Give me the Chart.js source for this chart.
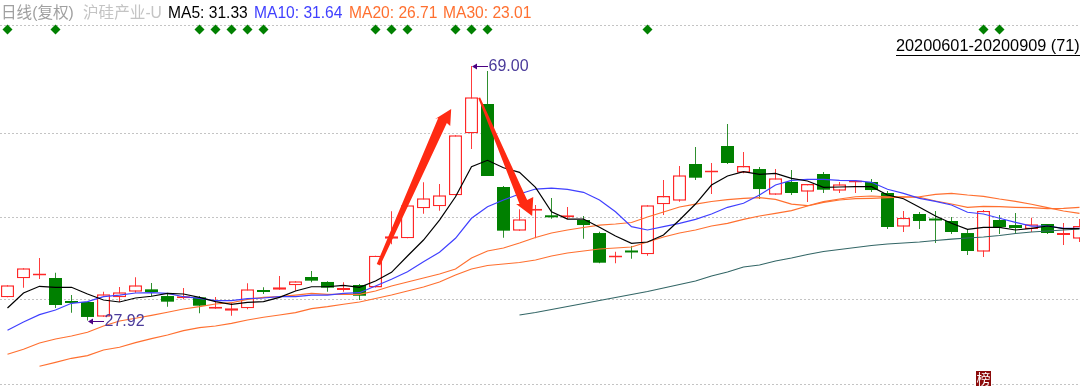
<!DOCTYPE html>
<html><head><meta charset="utf-8">
<style>html,body{margin:0;padding:0;background:#fff}canvas{display:block}</style>
<script src="https://cdn.jsdelivr.net/npm/chart.js@4"></script>
</head><body><canvas id="c" width="1080" height="386"></canvas>
<script>
const openP=[31.66,34.73,35.20,34.78,31.07,30.91,28.54,31.66,32.57,32.95,31.87,31.50,31.66,29.83,29.51,29.89,32.60,32.89,33.60,34.94,34.14,32.84,33.65,33.25,41.12,41.19,46.03,46.35,48.13,58.13,62.86,49.47,42.42,45.65,44.90,44.58,44.14,42.04,38.09,39.06,38.61,46.68,47.26,53.18,51.81,56.09,51.78,52.37,48.22,50.28,48.71,51.57,48.87,50.20,50.28,48.50,43.06,45.11,44.22,43.98,42.04,39.03,44.14,43.33,42.69,43.50,41.72,41.12];
const closeP=[33.60,36.35,35.30,30.42,30.75,28.49,32.14,32.47,33.60,32.52,30.96,31.66,30.31,29.94,29.89,32.95,32.52,33.28,34.25,34.35,33.22,33.05,31.92,38.38,41.51,46.51,47.64,48.13,57.81,63.95,51.24,42.42,44.25,45.75,44.58,44.90,43.33,37.25,38.33,38.90,46.51,48.02,51.36,50.97,51.97,53.34,52.86,49.14,50.87,48.50,49.95,49.03,49.90,50.36,48.98,43.01,44.47,43.98,44.06,42.21,39.14,45.60,43.01,42.85,43.45,42.04,42.04,43.17];
const highP=[33.60,36.35,38.01,35.63,32.03,30.91,32.57,33.33,34.89,33.98,32.31,33.17,31.87,31.71,30.75,33.93,33.28,35.11,34.25,35.91,34.25,34.09,33.81,38.38,45.55,46.51,50.23,49.95,57.81,69.00,68.19,49.63,45.87,46.56,47.69,46.24,44.79,42.25,39.03,39.94,46.51,50.60,52.86,55.92,53.34,59.64,55.12,52.70,52.37,52.21,49.95,51.89,50.28,50.60,50.76,48.82,45.60,45.43,45.60,44.62,42.69,45.76,44.95,45.27,44.51,43.50,43.66,44.30];
const lowP=[31.66,33.22,34.62,29.94,29.18,27.92,28.54,30.91,32.41,31.87,30.15,31.34,29.09,29.83,28.69,29.73,32.20,32.89,32.73,34.09,32.57,32.57,31.23,33.25,40.22,41.19,45.16,45.65,48.13,55.60,51.24,41.29,42.42,41.19,44.35,44.30,41.12,37.15,37.15,37.90,38.38,44.95,47.10,50.60,48.34,53.18,51.68,47.53,48.22,48.18,47.05,48.50,48.50,48.50,48.66,42.69,42.21,42.69,40.43,41.88,38.49,38.17,41.88,42.04,42.21,41.88,40.11,40.59];
const ma5=[29.94,32.36,33.44,33.28,33.28,32.20,31.23,30.91,31.55,31.83,32.31,32.20,31.66,30.96,30.54,30.86,30.96,31.66,32.68,33.37,33.37,33.60,33.28,34.30,35.70,38.33,40.91,44.14,47.90,52.74,53.78,52.58,51.84,49.42,45.48,44.30,44.30,42.96,41.56,40.38,40.59,41.72,44.14,46.72,49.79,51.24,51.94,51.52,51.68,50.87,50.44,49.42,49.47,49.52,49.52,48.18,47.58,46.19,44.79,43.61,42.64,42.96,42.96,42.53,42.80,43.17,42.74,42.74];
const ma10=[26.34,27.68,28.86,29.62,30.70,30.96,31.76,32.03,32.36,32.41,32.31,31.76,31.50,31.12,31.12,31.44,31.55,31.76,31.76,32.03,32.03,32.31,32.41,33.49,34.57,35.80,37.41,38.93,41.19,44.42,46.29,47.37,48.34,49.14,49.30,49.10,48.61,47.37,45.48,43.06,42.53,43.06,43.61,44.25,45.11,46.19,46.84,48.18,49.79,50.55,50.71,50.71,50.55,50.49,50.23,49.10,48.45,47.64,47.16,46.56,45.39,45.11,44.42,43.77,43.17,43.17,42.80,42.80];
const ma20=[22.47,23.27,24.29,24.94,25.42,26.02,27.03,27.84,28.28,28.76,29.25,29.78,30.15,30.58,30.79,31.34,31.66,31.76,32.03,32.31,32.15,32.15,32.15,32.68,33.49,34.14,34.78,35.43,36.24,38.01,39.14,39.62,40.43,41.32,42.04,42.53,42.93,43.33,43.50,43.74,44.62,45.43,46.24,46.72,47.13,47.42,47.64,47.74,47.48,46.72,46.45,47.10,47.53,47.90,48.02,47.90,47.90,47.81,47.21,46.72,46.19,46.35,46.29,46.19,46.13,45.97,46.03,46.19];
const ma30=[null,null,20.53,21.17,21.82,22.24,23.16,23.60,24.34,24.99,25.58,26.28,26.76,27.03,27.47,28.00,28.44,28.81,29.18,29.83,30.15,30.54,30.91,31.47,32.03,32.68,33.33,34.14,35.26,36.24,36.80,37.04,37.28,37.69,38.33,38.82,39.14,39.46,39.62,39.78,40.59,41.40,42.04,42.53,43.17,43.61,44.25,44.79,45.22,45.65,46.40,47.00,47.37,47.58,47.64,47.74,47.85,47.90,48.29,48.45,48.18,47.97,47.53,47.16,46.68,46.13,45.60,45.22];
const ma60=[null,null,null,null,null,null,null,null,null,null,null,null,null,null,null,null,null,null,null,null,null,null,null,null,null,null,null,null,null,null,null,null,28.81,29.21,29.70,30.18,30.67,31.15,31.63,32.12,32.60,33.17,33.73,34.30,35.11,35.75,36.56,36.88,37.53,38.01,38.57,39.06,39.38,39.70,40.03,40.27,40.43,40.59,40.83,41.07,41.24,41.40,41.64,41.96,42.21,42.37,42.53,42.69];
const signalDays=[0,3,12,13,14,15,16,23,24,25,28,29,30,40,61,62];
const signalLevel=[74.89];
const gridPrices=[17.67,31.23,44.62,58.18,75.62];
const arrowUp=[[23.08,37.04],[26.92,60.60],[26.73,60.44],[27.73,62.06],[27.67,59.31],[27.46,59.80],[23.29,36.80]];
const arrowDown=[[29.42,63.83],[29.54,63.91],[32.48,47.37],[32.86,47.85],[32.79,44.79],[31.79,46.72],[32.00,46.72]];
const extremes=[{day:29,price:69.00,text:'69.00'},{day:5,price:27.92,text:'27.92'}];
const headerLabels=[['日线(复权)',1,'#a0a0a0'],['沪硅产业-U',83,'#c4c4c4'],['MA5: 31.33',168,'#000000'],['MA10: 31.64',254,'#4040ff'],['MA20: 26.71',349,'#ff7030'],['MA30: 23.01',443,'#ff7030']];
const rangeLabel='20200601-20200909 (71)';
const rankDay=[61];
const rankText='榜';

const RED='#ff2828',GREEN='#008000',WICKG='#2f8f2f';
const days=openP.map((_,i)=>i);
const isUp=i=>closeP[i]>=openP[i];
const series=a=>a.map((v,i)=>({x:i,y:v}));
const lineDs=(a,c,o)=>({type:'line',data:series(a),borderColor:c,borderWidth:1.2,pointRadius:0,tension:0,order:o,spanGaps:false});

const overlay={id:'overlay',afterDatasetsDraw(ch){
  const g=ch.ctx,X=ch.scales.x,Y=ch.scales.y;
  const poly=pts=>{g.beginPath();pts.forEach((p,k)=>{const x=X.getPixelForValue(p[0]),y=Y.getPixelForValue(p[1]);k?g.lineTo(x,y):g.moveTo(x,y)});g.closePath();g.fillStyle='#ff2a12';g.fill()};
  g.save();
  poly(arrowUp);poly(arrowDown);
  const font='15.6px "Liberation Sans","Noto Sans CJK SC",sans-serif';
  g.textBaseline='alphabetic';g.textAlign='left';g.font=font;
  headerLabels.forEach(h=>{g.fillStyle=h[2];g.fillText(h[0],h[1],18)});
  g.font='16.3px "Liberation Sans",sans-serif';g.fillStyle='#000';
  g.fillText(rangeLabel,896,51);
  g.fillRect(896,55,184,1);
  g.font='16px "Liberation Sans",sans-serif';
  extremes.forEach(e=>{
    const x=Math.round(X.getPixelForValue(e.day)),y=Math.round(Y.getPixelForValue(e.price));
    g.fillStyle='#4b0082';g.fillRect(x+1,y,15,1);
    g.beginPath();g.moveTo(x,y+.5);g.lineTo(x+5,y-2.5);g.lineTo(x+5,y+3.5);g.closePath();g.fill();
    g.fillStyle='#4a3a9a';g.textBaseline='middle';g.fillText(e.text,x+16.5,y+1);
  });
  const rx=X.getPixelForValue(rankDay[0]);
  g.fillStyle='#8b0a0a';g.fillRect(Math.round(rx)-8,371,15,15);
  g.fillStyle='#fff';g.font='14px "Noto Sans CJK SC",sans-serif';g.textAlign='center';g.textBaseline='middle';
  g.fillText(rankText,Math.round(rx)-.5,379);
  g.restore();
}};

new Chart(document.getElementById('c'),{
  type:'bar',
  data:{datasets:[
    {label:'wick',grouped:false,order:20,barThickness:1,inflateAmount:0,
     data:days.map(i=>({x:i,y:[lowP[i],highP[i]]})),
     backgroundColor:days.map(i=>isUp(i)?'#ff3c3c':WICKG),borderWidth:0},
    {label:'body',grouped:false,order:10,barThickness:13,inflateAmount:0,minBarLength:2,borderSkipped:false,
     data:days.map(i=>({x:i,y:[openP[i],closeP[i]]})),
     backgroundColor:days.map(i=>isUp(i)?(closeP[i]-openP[i]<0.45?RED:'#ffffff'):GREEN),
     borderColor:days.map(i=>isUp(i)?RED:GREEN),borderWidth:days.map(i=>isUp(i)?1.4:0)},
    lineDs(ma60,'#336666',6),lineDs(ma30,'#ff7030',5),lineDs(ma20,'#ff7030',4),lineDs(ma10,'#4040ff',3),lineDs(ma5,'#000000',2),
    {type:'line',showLine:false,order:1,data:signalDays.map(d=>({x:d,y:signalLevel[0]})),
     pointStyle:'rectRot',pointRadius:5,pointBorderWidth:0,pointBackgroundColor:GREEN,clip:false}
  ]},
  options:{
    responsive:false,animation:false,devicePixelRatio:1,
    layout:{autoPadding:false,padding:{top:25,bottom:2,left:0,right:0}},
    plugins:{legend:{display:false},tooltip:{enabled:false},title:{display:false}},
    scales:{
      x:{type:'linear',display:false,offset:false,min:-0.46875,max:67.03125,grid:{display:false}},
      y:{type:'linear',min:17.67,max:75.62,beginAtZero:false,
         afterBuildTicks:a=>{a.ticks=gridPrices.map(v=>({value:v}))},
         afterFit:a=>{a.width=0},
         ticks:{display:false},border:{display:false,dash:[2,2]},
         grid:{color:'#c4c4c4',lineWidth:1,drawTicks:false}}
    }
  },
  plugins:[overlay]
});
</script></body></html>
